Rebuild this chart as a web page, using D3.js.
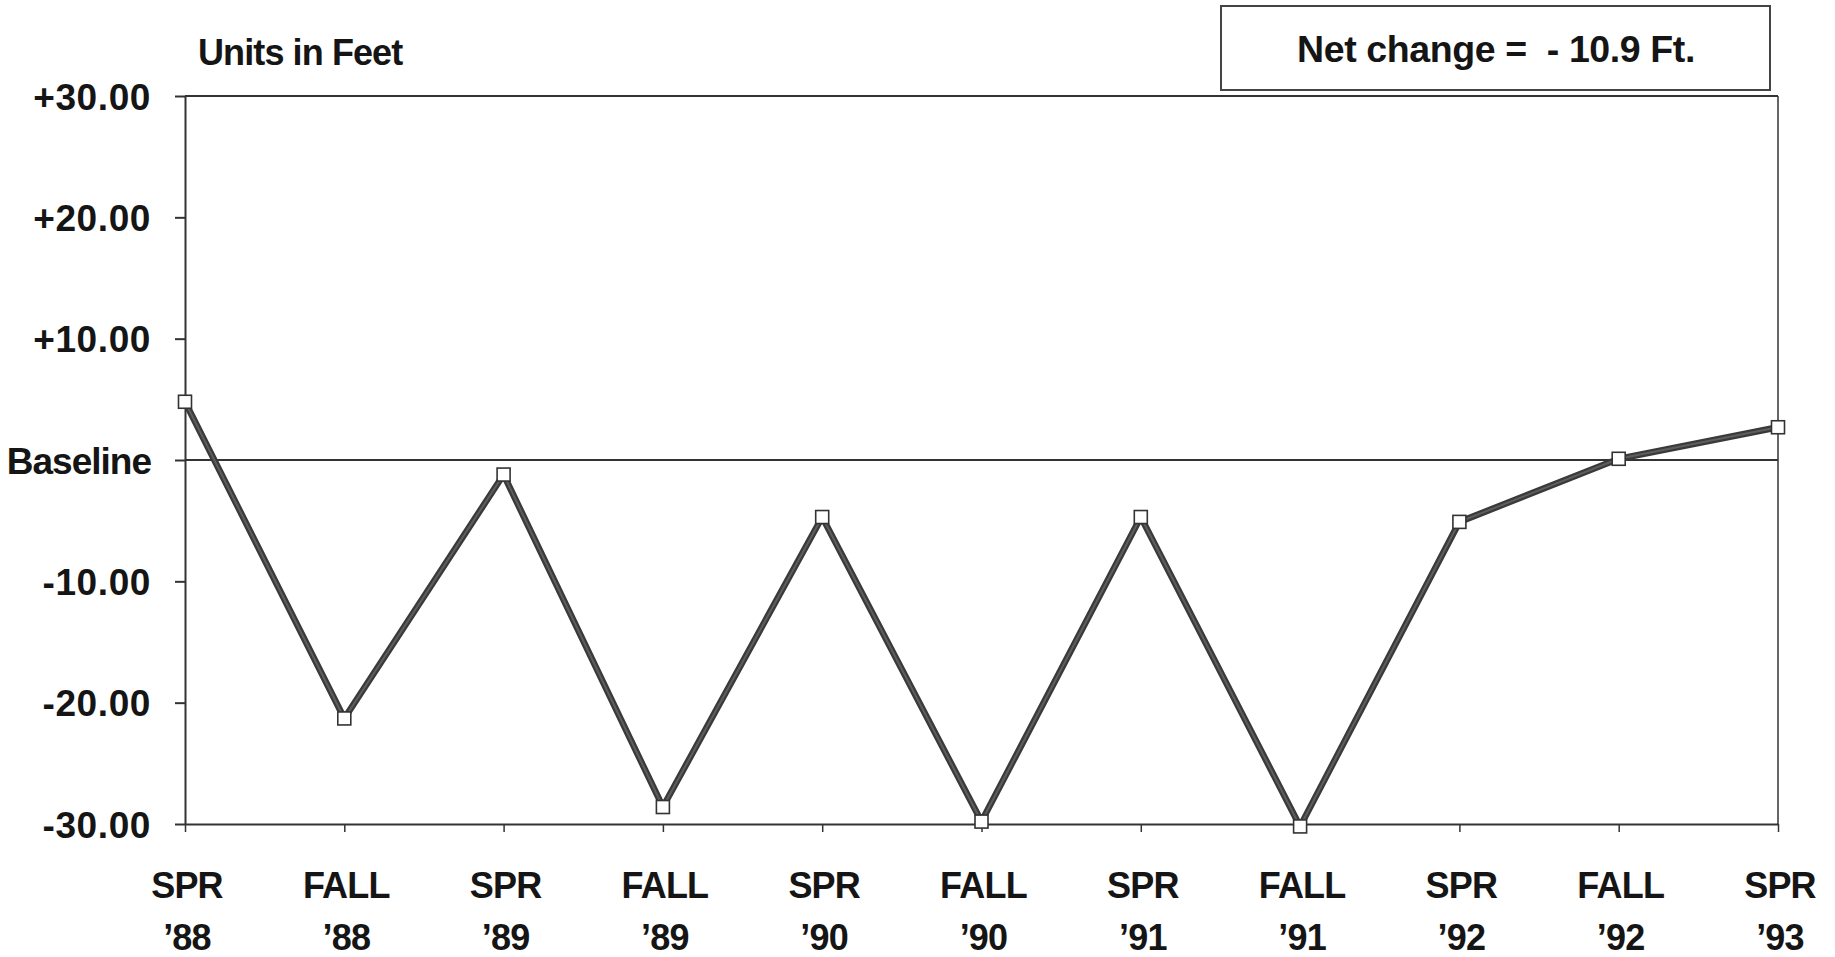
<!DOCTYPE html>
<html>
<head>
<meta charset="utf-8">
<script src="https://cdn.jsdelivr.net/npm/d3@7"></script>
<style>
  html, body { margin: 0; padding: 0; background: #fff; }
  svg { display: block; }
  text { font-family: "Liberation Sans", Arial, Helvetica, sans-serif; font-weight: bold; fill: #151515; }
</style>
</head>
<body>
<svg id="chart" width="1835" height="957"></svg>
<script>
// ---- data ----
const seasons = ["SPR", "FALL", "SPR", "FALL", "SPR", "FALL", "SPR", "FALL", "SPR", "FALL", "SPR"];
const years   = ["’88", "’88", "’89", "’89", "’90", "’90", "’91", "’91", "’92", "’92", "’93"];
const changeFt = [4.8, -21.3, -1.2, -28.6, -4.7, -29.8, -4.7, -30.2, -5.1, 0.1, 2.7];
const yTickValues = [30, 20, 10, 0, -10, -20, -30];
const yTickLabels = ["+30.00", "+20.00", "+10.00", "Baseline", "-10.00", "-20.00", "-30.00"];
const unitsLabel = "Units in Feet";
const netChangeLabel = "Net change =  - 10.9 Ft.";

// ---- layout ----
const plotL = 185, plotR = 1778, plotT = 96, plotB = 824;
const svg = d3.select("#chart");
const cats = seasons.map((s, i) => i);

const x = d3.scalePoint().domain(cats).range([plotL, plotR]);
const y = d3.scaleLinear().domain([-30, 30]).range([plotB, plotT]);

const ink = "#333";

// frame: top and right
svg.append("line").attr("x1", plotL).attr("x2", plotR).attr("y1", plotT).attr("y2", plotT)
  .attr("stroke", ink).attr("stroke-width", 2);
svg.append("line").attr("x1", plotR).attr("x2", plotR).attr("y1", plotT).attr("y2", plotB)
  .attr("stroke", ink).attr("stroke-width", 1.5);

// baseline line at 0
svg.append("line").attr("x1", plotL).attr("x2", plotR).attr("y1", y(0)).attr("y2", y(0))
  .attr("stroke", ink).attr("stroke-width", 2);

// y axis
const yAxis = d3.axisLeft(y)
  .tickValues(yTickValues)
  .tickFormat((d, i) => yTickLabels[i])
  .tickSize(10).tickSizeOuter(0).tickPadding(24);
const gy = svg.append("g").attr("transform", `translate(${plotL},0)`).call(yAxis);
gy.select(".domain").attr("stroke", ink).attr("stroke-width", 2);
gy.selectAll(".tick line").attr("stroke", ink).attr("stroke-width", 2);
gy.selectAll(".tick text")
  .style("font-family", "'Liberation Sans', Arial, sans-serif")
  .style("font-weight", "bold")
  .style("font-size", "37px")
  .style("letter-spacing", d => d === 0 ? "-1px" : "0.6px")
  .attr("fill", "#151515")
  .attr("dy", "0.36em");

// x axis
const xAxis = d3.axisBottom(x).tickFormat("").tickSize(8).tickSizeOuter(0);
const gx = svg.append("g").attr("transform", `translate(0,${plotB})`).call(xAxis);
gx.select(".domain").attr("stroke", ink).attr("stroke-width", 2);
gx.selectAll(".tick line").attr("stroke", ink).attr("stroke-width", 1.5);

const xl = svg.append("g").selectAll("text").data(cats).join("text")
  .attr("text-anchor", "middle")
  .style("font-size", "36px")
  .style("letter-spacing", "-0.8px");
xl.append("tspan").attr("x", d => x(d) + 2).attr("y", 898).text(d => seasons[d]);
xl.append("tspan").attr("x", d => x(d) + 2).attr("y", 950).text(d => years[d]);

// series line (dark edge with slightly lighter core)
const lineGen = d3.line().x((d, i) => x(i)).y(d => y(d));
svg.append("path").datum(changeFt).attr("d", lineGen)
  .attr("fill", "none").attr("stroke", "#3a3a3a").attr("stroke-width", 6.5).attr("stroke-linejoin", "miter");
svg.append("path").datum(changeFt).attr("d", lineGen)
  .attr("fill", "none").attr("stroke", "#5e5e5e").attr("stroke-width", 2);

// markers
const m = 13;
svg.append("g").selectAll("rect").data(changeFt).join("rect")
  .attr("x", (d, i) => x(i) - m / 2).attr("y", d => y(d) - m / 2)
  .attr("width", m).attr("height", m)
  .attr("fill", "#fff").attr("stroke", ink).attr("stroke-width", 1.6);

// units label
svg.append("text").attr("x", 198).attr("y", 65)
  .style("font-size", "36px").style("letter-spacing", "-0.9px")
  .text(unitsLabel);

// net change box
svg.append("rect").attr("x", 1221).attr("y", 6).attr("width", 549).attr("height", 84)
  .attr("fill", "#fff").attr("stroke", "#444").attr("stroke-width", 2);
svg.append("text").attr("x", 1496).attr("y", 62).attr("text-anchor", "middle")
  .style("font-size", "37.5px").style("letter-spacing", "-0.4px")
  .style("white-space", "pre")
  .text(netChangeLabel);
</script>
</body>
</html>
